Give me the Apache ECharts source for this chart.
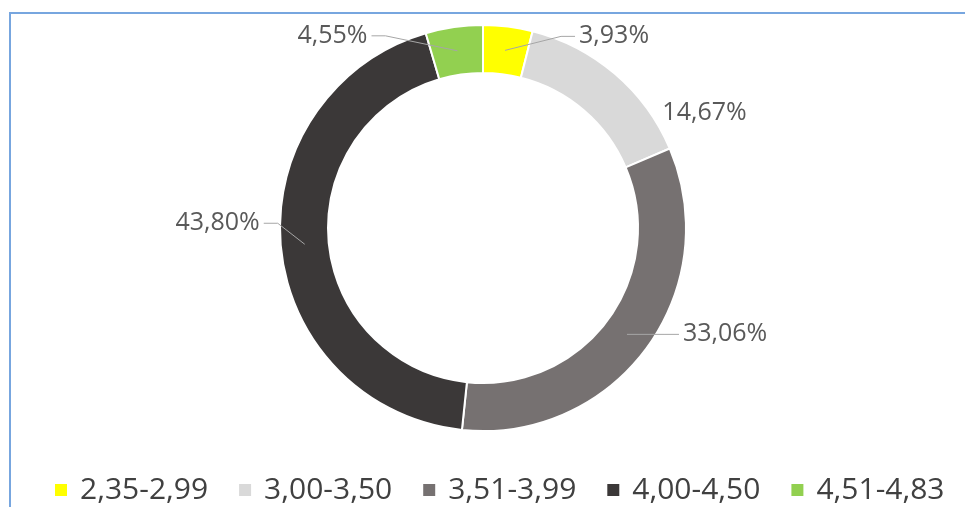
<!DOCTYPE html>
<html>
<head>
<meta charset="utf-8">
<script src="https://cdn.jsdelivr.net/npm/echarts@6.0.0/dist/echarts.min.js"></script>
<style>
  html, body { margin: 0; padding: 0; background: #fff; }
  .frame {
    position: absolute; left: 9px; top: 12px; right: -10px; bottom: -10px;
    border-top: 2px solid #77a6df; border-left: 2px solid #77a6df;
  }
  #main { position: absolute; left: 0; top: 0; width: 965px; height: 507px; }
</style>
</head>
<body>
<div class="frame"></div>
<div id="main"></div>
<script>
// 数据
const categories = ['2,35-2,99', '3,00-3,50', '3,51-3,99', '4,00-4,50', '4,51-4,83'];
const shares = [3.93, 14.67, 33.06, 43.80, 4.55];
const colors = ['#ffff00', '#d9d9d9', '#767171', '#3b3838', '#92d050'];
// 标签相对环中线的偏移
const labelShift = [[74, -14], [63, 21], [56, 0], [-45, -21], [-90, -15]];
const showLine = [true, false, true, true, true];

const cx = 483, cy = 228, rIn = 155, rOut = 203;
const rMid = (rIn + rOut) / 2;

// 每个扇区的中心角（从顶部顺时针）
const total = shares.reduce((a, b) => a + b, 0);
let acc = 0;
const midAngles = shares.map(v => {
  const a = (acc + v / 2) / total * Math.PI * 2;
  acc += v;
  return a;
});

const myChart = echarts.init(document.getElementById('main'));
const option = {
  animation: false,
  legend: {
    data: categories,
    left: 55,
    top: 475,
    width: 950,
    padding: 0,
    itemWidth: 12,
    itemHeight: 12,
    itemGap: 31,
    icon: 'rect',
    itemStyle: { borderWidth: 0 },
    textStyle: { fontSize: 30, color: '#404040', fontFamily: 'Open Sans', padding: [0, 0, 0, 8] }
  },
  series: [{
    // 圆环
    type: 'pie',
    z: 2,
    center: [cx, cy],
    radius: [rIn, rOut],
    startAngle: 90,
    clockwise: true,
    silent: true,
    itemStyle: { borderColor: '#fff', borderWidth: 2 },
    label: { show: false },
    labelLine: { show: false },
    data: categories.map((name, i) => ({
      name: name,
      value: shares[i],
      itemStyle: { color: colors[i] }
    }))
  }, {
    // 标签层（透明扇区，引导线画在圆环之上）
    type: 'pie',
    z: 5,
    center: [cx, cy],
    radius: [rIn, rOut],
    startAngle: 90,
    clockwise: true,
    silent: true,
    avoidLabelOverlap: false,
    itemStyle: { color: 'rgba(0,0,0,0)', borderWidth: 0 },
    label: {
      position: 'outside',
      fontSize: 25,
      fontFamily: 'Open Sans',
      color: '#595959',
      formatter: p => p.value.toFixed(2).replace('.', ',') + '%'
    },
    labelLine: { show: true, length: 1, length2: 1, lineStyle: { color: '#a6a6a6', width: 1 } },
    labelLayout: function (params) {
      const i = params.dataIndex;
      const a = midAngles[i];
      const mx = cx + rMid * Math.sin(a);
      const my = cy - rMid * Math.cos(a);
      const ax = mx + labelShift[i][0];
      const ay = my + labelShift[i][1];
      const dir = labelShift[i][0] < 0 ? 1 : -1;
      return {
        x: ax,
        y: ay,
        labelLinePoints: [[mx, my], [ax + dir * 18, ay], [ax + dir * 4, ay]]
      };
    },
    data: categories.map((name, i) => ({
      name: name,
      value: shares[i],
      labelLine: { show: showLine[i] }
    }))
  }]
};
myChart.setOption(option);
</script>
</body>
</html>
